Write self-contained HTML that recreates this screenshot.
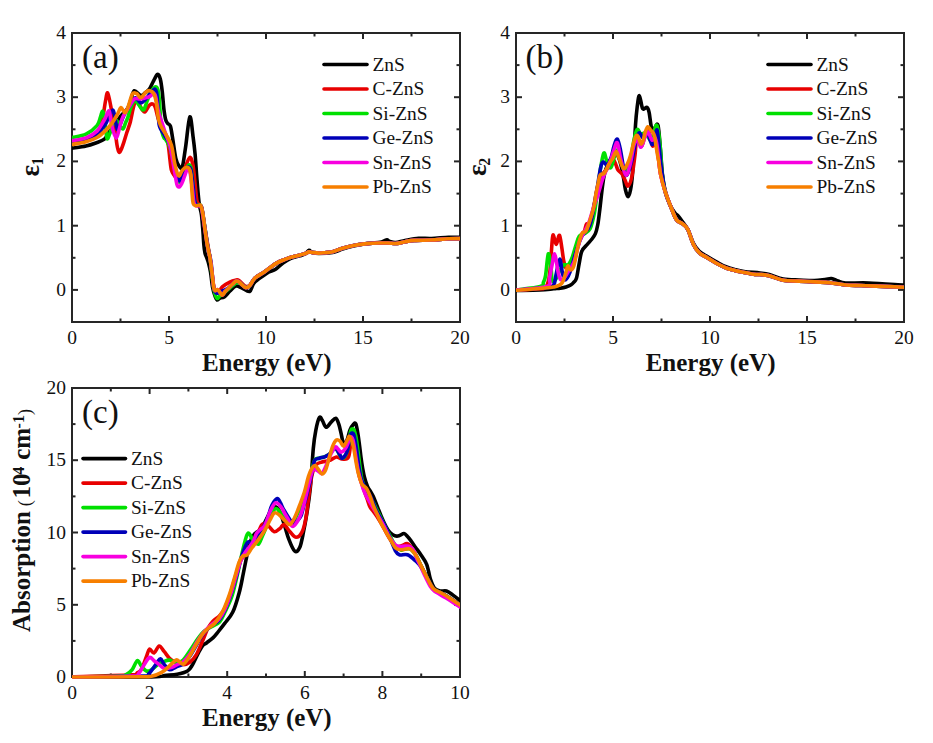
<!DOCTYPE html>
<html><head><meta charset="utf-8"><style>
html,body{margin:0;padding:0;background:#fff;width:933px;height:743px;overflow:hidden}
svg{display:block}
</style></head><body>
<svg width="933" height="743" viewBox="0 0 933 743">
<rect width="100%" height="100%" fill="#fff"/>
<defs>
<clipPath id="ca"><rect x="72" y="32" width="388" height="292"/></clipPath>
<clipPath id="cb"><rect x="516" y="32" width="388" height="292"/></clipPath>
<clipPath id="cc"><rect x="72" y="387" width="388" height="292"/></clipPath>
</defs>
<g stroke="#262626" stroke-width="2" fill="none">
<rect x="72" y="33" width="388" height="289" />
<rect x="516" y="33" width="388" height="289" />
<rect x="72" y="388" width="388" height="289" />
<line x1="72.0" y1="322" x2="72.0" y2="316" />
<line x1="72.0" y1="33" x2="72.0" y2="39" />
<line x1="169.0" y1="322" x2="169.0" y2="316" />
<line x1="169.0" y1="33" x2="169.0" y2="39" />
<line x1="266.0" y1="322" x2="266.0" y2="316" />
<line x1="266.0" y1="33" x2="266.0" y2="39" />
<line x1="363.0" y1="322" x2="363.0" y2="316" />
<line x1="363.0" y1="33" x2="363.0" y2="39" />
<line x1="460.0" y1="322" x2="460.0" y2="316" />
<line x1="460.0" y1="33" x2="460.0" y2="39" />
<line x1="120.5" y1="322" x2="120.5" y2="318.5" />
<line x1="120.5" y1="33" x2="120.5" y2="36.5" />
<line x1="217.5" y1="322" x2="217.5" y2="318.5" />
<line x1="217.5" y1="33" x2="217.5" y2="36.5" />
<line x1="314.5" y1="322" x2="314.5" y2="318.5" />
<line x1="314.5" y1="33" x2="314.5" y2="36.5" />
<line x1="411.5" y1="322" x2="411.5" y2="318.5" />
<line x1="411.5" y1="33" x2="411.5" y2="36.5" />
<line x1="72" y1="289.9" x2="78" y2="289.9" />
<line x1="460" y1="289.9" x2="454" y2="289.9" />
<line x1="72" y1="225.7" x2="78" y2="225.7" />
<line x1="460" y1="225.7" x2="454" y2="225.7" />
<line x1="72" y1="161.4" x2="78" y2="161.4" />
<line x1="460" y1="161.4" x2="454" y2="161.4" />
<line x1="72" y1="97.2" x2="78" y2="97.2" />
<line x1="460" y1="97.2" x2="454" y2="97.2" />
<line x1="72" y1="33.0" x2="78" y2="33.0" />
<line x1="460" y1="33.0" x2="454" y2="33.0" />
<line x1="72" y1="257.8" x2="75.5" y2="257.8" />
<line x1="460" y1="257.8" x2="456.5" y2="257.8" />
<line x1="72" y1="193.6" x2="75.5" y2="193.6" />
<line x1="460" y1="193.6" x2="456.5" y2="193.6" />
<line x1="72" y1="129.3" x2="75.5" y2="129.3" />
<line x1="460" y1="129.3" x2="456.5" y2="129.3" />
<line x1="72" y1="65.1" x2="75.5" y2="65.1" />
<line x1="460" y1="65.1" x2="456.5" y2="65.1" />
<line x1="516.0" y1="322" x2="516.0" y2="316" />
<line x1="516.0" y1="33" x2="516.0" y2="39" />
<line x1="613.0" y1="322" x2="613.0" y2="316" />
<line x1="613.0" y1="33" x2="613.0" y2="39" />
<line x1="710.0" y1="322" x2="710.0" y2="316" />
<line x1="710.0" y1="33" x2="710.0" y2="39" />
<line x1="807.0" y1="322" x2="807.0" y2="316" />
<line x1="807.0" y1="33" x2="807.0" y2="39" />
<line x1="904.0" y1="322" x2="904.0" y2="316" />
<line x1="904.0" y1="33" x2="904.0" y2="39" />
<line x1="564.5" y1="322" x2="564.5" y2="318.5" />
<line x1="564.5" y1="33" x2="564.5" y2="36.5" />
<line x1="661.5" y1="322" x2="661.5" y2="318.5" />
<line x1="661.5" y1="33" x2="661.5" y2="36.5" />
<line x1="758.5" y1="322" x2="758.5" y2="318.5" />
<line x1="758.5" y1="33" x2="758.5" y2="36.5" />
<line x1="855.5" y1="322" x2="855.5" y2="318.5" />
<line x1="855.5" y1="33" x2="855.5" y2="36.5" />
<line x1="516" y1="289.9" x2="522" y2="289.9" />
<line x1="904" y1="289.9" x2="898" y2="289.9" />
<line x1="516" y1="225.7" x2="522" y2="225.7" />
<line x1="904" y1="225.7" x2="898" y2="225.7" />
<line x1="516" y1="161.4" x2="522" y2="161.4" />
<line x1="904" y1="161.4" x2="898" y2="161.4" />
<line x1="516" y1="97.2" x2="522" y2="97.2" />
<line x1="904" y1="97.2" x2="898" y2="97.2" />
<line x1="516" y1="33.0" x2="522" y2="33.0" />
<line x1="904" y1="33.0" x2="898" y2="33.0" />
<line x1="516" y1="257.8" x2="519.5" y2="257.8" />
<line x1="904" y1="257.8" x2="900.5" y2="257.8" />
<line x1="516" y1="193.6" x2="519.5" y2="193.6" />
<line x1="904" y1="193.6" x2="900.5" y2="193.6" />
<line x1="516" y1="129.3" x2="519.5" y2="129.3" />
<line x1="904" y1="129.3" x2="900.5" y2="129.3" />
<line x1="516" y1="65.1" x2="519.5" y2="65.1" />
<line x1="904" y1="65.1" x2="900.5" y2="65.1" />
<line x1="72.0" y1="677" x2="72.0" y2="671" />
<line x1="72.0" y1="388" x2="72.0" y2="394" />
<line x1="149.6" y1="677" x2="149.6" y2="671" />
<line x1="149.6" y1="388" x2="149.6" y2="394" />
<line x1="227.2" y1="677" x2="227.2" y2="671" />
<line x1="227.2" y1="388" x2="227.2" y2="394" />
<line x1="304.8" y1="677" x2="304.8" y2="671" />
<line x1="304.8" y1="388" x2="304.8" y2="394" />
<line x1="382.4" y1="677" x2="382.4" y2="671" />
<line x1="382.4" y1="388" x2="382.4" y2="394" />
<line x1="460.0" y1="677" x2="460.0" y2="671" />
<line x1="460.0" y1="388" x2="460.0" y2="394" />
<line x1="110.8" y1="677" x2="110.8" y2="673.5" />
<line x1="110.8" y1="388" x2="110.8" y2="391.5" />
<line x1="188.4" y1="677" x2="188.4" y2="673.5" />
<line x1="188.4" y1="388" x2="188.4" y2="391.5" />
<line x1="266.0" y1="677" x2="266.0" y2="673.5" />
<line x1="266.0" y1="388" x2="266.0" y2="391.5" />
<line x1="343.6" y1="677" x2="343.6" y2="673.5" />
<line x1="343.6" y1="388" x2="343.6" y2="391.5" />
<line x1="421.2" y1="677" x2="421.2" y2="673.5" />
<line x1="421.2" y1="388" x2="421.2" y2="391.5" />
<line x1="72" y1="677.0" x2="78" y2="677.0" />
<line x1="460" y1="677.0" x2="454" y2="677.0" />
<line x1="72" y1="604.8" x2="78" y2="604.8" />
<line x1="460" y1="604.8" x2="454" y2="604.8" />
<line x1="72" y1="532.5" x2="78" y2="532.5" />
<line x1="460" y1="532.5" x2="454" y2="532.5" />
<line x1="72" y1="460.2" x2="78" y2="460.2" />
<line x1="460" y1="460.2" x2="454" y2="460.2" />
<line x1="72" y1="388.0" x2="78" y2="388.0" />
<line x1="460" y1="388.0" x2="454" y2="388.0" />
<line x1="72" y1="640.9" x2="75.5" y2="640.9" />
<line x1="460" y1="640.9" x2="456.5" y2="640.9" />
<line x1="72" y1="568.6" x2="75.5" y2="568.6" />
<line x1="460" y1="568.6" x2="456.5" y2="568.6" />
<line x1="72" y1="496.4" x2="75.5" y2="496.4" />
<line x1="460" y1="496.4" x2="456.5" y2="496.4" />
<line x1="72" y1="424.1" x2="75.5" y2="424.1" />
<line x1="460" y1="424.1" x2="456.5" y2="424.1" />
</g>
<g clip-path="url(#ca)" fill="none" stroke-width="3.6" stroke-linejoin="round" stroke-linecap="round">
<path d="M72.0,148.3 C74.3,147.9 81.8,147.0 86.0,146.0 C90.2,145.0 93.9,143.6 97.0,142.5 C100.1,141.4 102.6,140.6 104.4,139.2 C106.2,137.8 106.7,135.9 108.0,134.0 C109.3,132.1 110.7,129.8 112.0,128.0 C113.3,126.2 114.7,124.8 116.0,123.0 C117.3,121.2 118.7,118.8 120.0,117.0 C121.3,115.2 122.7,114.0 124.0,112.5 C125.3,111.0 126.8,110.0 128.0,107.8 C129.2,105.6 129.9,102.3 131.0,99.5 C132.1,96.7 132.7,91.4 134.3,90.7 C135.9,90.0 139.0,95.1 140.8,95.5 C142.6,95.9 143.6,94.1 145.0,93.0 C146.4,91.9 148.1,90.9 149.4,89.1 C150.7,87.3 151.7,84.4 153.0,82.0 C154.3,79.6 156.2,75.0 157.4,74.5 C158.6,74.0 159.5,76.1 160.3,79.0 C161.1,81.9 161.7,86.8 162.3,92.0 C162.9,97.2 163.4,105.4 164.0,110.0 C164.6,114.6 165.0,117.2 165.6,119.5 C166.2,121.8 166.9,122.4 167.7,123.5 C168.5,124.6 169.6,123.7 170.4,126.1 C171.2,128.5 171.7,132.6 172.6,138.0 C173.5,143.4 174.7,153.7 175.8,158.4 C176.9,163.1 177.9,164.6 179.0,166.0 C180.1,167.4 181.2,170.1 182.3,167.0 C183.4,163.9 184.2,156.0 185.5,147.7 C186.8,139.4 188.5,118.8 189.8,117.0 C191.1,115.2 192.2,130.5 193.1,136.9 C194.0,143.3 194.5,148.0 195.2,155.2 C195.8,162.4 196.3,172.0 197.0,180.0 C197.7,188.0 198.4,197.6 199.2,203.4 C199.9,209.2 200.9,210.2 201.5,215.0 C202.1,219.8 202.6,227.2 203.0,232.0 C203.4,236.8 203.5,240.5 203.8,244.0 C204.1,247.5 204.5,250.7 205.0,253.0 C205.5,255.3 206.2,256.3 206.8,258.0 C207.4,259.7 207.9,260.7 208.5,263.0 C209.1,265.3 209.8,268.0 210.5,272.0 C211.2,276.0 211.8,283.0 212.5,287.0 C213.2,291.0 214.2,293.8 215.0,296.0 C215.8,298.2 216.2,299.7 217.0,300.0 C217.8,300.3 218.8,298.5 220.0,298.0 C221.2,297.5 222.5,298.3 224.2,297.1 C225.9,295.9 228.0,292.9 230.0,291.0 C232.0,289.1 234.0,286.5 236.0,286.0 C238.0,285.5 239.7,287.1 242.0,288.0 C244.3,288.9 247.6,292.3 249.6,291.5 C251.6,290.7 251.7,285.7 254.0,283.0 C256.3,280.3 261.1,277.3 263.6,275.5 C266.1,273.7 267.0,273.0 269.0,272.0 C271.0,271.0 273.3,270.8 275.6,269.3 C277.9,267.8 280.4,264.8 283.0,263.0 C285.6,261.2 288.1,259.5 290.9,258.3 C293.7,257.1 297.6,256.5 300.0,255.8 C302.4,255.1 303.5,254.9 305.0,254.0 C306.5,253.1 307.8,250.6 309.0,250.3 C310.2,250.0 310.4,251.8 312.0,252.3 C313.6,252.8 315.4,253.5 318.8,253.5 C322.2,253.5 328.8,253.2 332.7,252.5 C336.6,251.8 339.0,250.1 342.5,249.0 C346.0,247.9 349.4,246.9 353.6,246.0 C357.8,245.1 363.1,244.1 367.5,243.5 C371.9,242.9 377.2,242.7 380.0,242.3 C382.8,241.9 382.8,241.4 384.0,241.0 C385.2,240.6 386.0,239.7 387.0,239.8 C388.0,239.9 388.6,241.1 390.0,241.5 C391.4,241.9 393.2,242.7 395.7,242.5 C398.2,242.3 401.3,241.2 405.1,240.5 C408.9,239.8 414.2,238.6 418.6,238.3 C423.0,238.0 426.5,238.7 431.5,238.5 C436.5,238.3 443.9,237.5 448.6,237.3 C453.4,237.1 458.1,237.3 460.0,237.3" stroke="#000000" />
<path d="M72.0,142.0 C74.3,141.6 81.8,140.9 86.0,139.5 C90.2,138.1 94.5,135.9 97.0,133.5 C99.5,131.1 99.9,128.2 101.0,125.0 C102.1,121.8 102.7,118.0 103.4,114.0 C104.2,110.0 104.8,104.5 105.5,101.0 C106.2,97.5 106.8,91.9 107.7,92.9 C108.6,93.9 110.0,102.4 110.9,106.9 C111.8,111.4 112.3,115.9 113.0,120.0 C113.7,124.1 114.5,127.5 115.2,131.7 C115.9,135.9 116.4,141.6 117.0,145.0 C117.6,148.4 118.3,151.3 119.0,152.1 C119.7,152.9 120.2,151.6 121.0,150.0 C121.8,148.4 122.8,145.4 123.8,142.4 C124.8,139.4 125.9,135.4 127.0,132.0 C128.1,128.6 129.3,125.9 130.3,122.0 C131.3,118.1 132.2,112.3 133.2,108.4 C134.2,104.5 135.4,99.3 136.5,98.8 C137.6,98.3 138.7,103.3 139.7,105.2 C140.7,107.1 141.6,108.9 142.5,110.0 C143.4,111.1 143.9,112.5 145.1,111.7 C146.2,110.9 148.1,106.5 149.4,105.2 C150.7,103.9 152.1,103.7 153.1,104.1 C154.1,104.5 154.5,105.1 155.3,107.4 C156.1,109.7 157.1,115.1 158.0,118.0 C158.9,120.9 160.0,122.8 161.0,125.0 C162.0,127.2 163.2,129.2 164.0,131.0 C164.8,132.8 165.4,133.6 166.1,136.0 C166.8,138.4 167.7,141.5 168.3,145.5 C169.0,149.5 169.5,155.9 170.0,160.0 C170.5,164.1 170.8,167.8 171.5,170.3 C172.2,172.8 172.9,173.4 174.0,175.0 C175.1,176.6 176.7,179.7 178.0,180.0 C179.3,180.3 180.8,179.0 182.0,177.0 C183.2,175.0 183.7,171.3 185.0,168.0 C186.3,164.7 188.5,157.7 189.8,157.4 C191.2,157.1 192.2,161.3 193.1,166.0 C194.0,170.7 194.6,179.6 195.2,185.3 C195.8,191.0 196.2,196.8 196.8,200.0 C197.4,203.2 198.2,203.2 199.0,204.5 C199.8,205.8 200.7,203.5 201.7,207.5 C202.7,211.5 203.5,220.0 204.9,228.5 C206.3,237.0 208.6,248.8 210.1,258.5 C211.6,268.2 212.8,281.2 213.8,287.0 C214.8,292.8 215.1,292.2 216.0,293.0 C216.9,293.8 217.9,293.0 219.0,292.0 C220.1,291.0 220.5,288.4 222.3,286.8 C224.1,285.2 227.6,283.2 229.8,282.1 C232.0,281.0 234.0,280.5 235.5,280.2 C237.0,279.9 237.4,279.5 239.0,280.5 C240.6,281.5 243.2,285.1 245.0,286.0 C246.8,286.9 247.9,287.1 249.6,285.8 C251.3,284.5 252.7,280.2 255.0,278.0 C257.3,275.8 261.1,274.2 263.6,272.5 C266.1,270.8 267.8,269.3 270.0,267.7 C272.2,266.1 274.7,264.2 277.0,262.9 C279.3,261.6 281.7,260.7 284.0,259.8 C286.3,258.9 288.2,258.1 290.9,257.3 C293.6,256.5 297.5,255.7 300.0,255.0 C302.5,254.3 304.5,253.8 306.0,253.3 C307.5,252.8 307.8,252.0 309.0,251.9 C310.2,251.8 311.4,252.4 313.0,252.6 C314.6,252.8 316.8,253.1 318.8,253.1 C320.8,253.1 322.7,252.9 325.0,252.7 C327.3,252.5 329.8,252.4 332.7,251.7 C335.6,250.9 339.0,249.2 342.5,248.2 C346.0,247.2 349.4,246.3 353.6,245.5 C357.8,244.7 363.1,244.0 367.5,243.6 C371.9,243.2 376.6,243.1 380.0,243.0 C383.4,242.9 385.1,242.9 388.0,243.0 C390.9,243.1 394.3,243.6 397.2,243.4 C400.1,243.2 402.2,242.2 405.1,241.7 C408.0,241.2 409.9,240.7 414.3,240.4 C418.7,240.1 425.8,240.3 431.5,240.0 C437.2,239.7 443.9,239.0 448.6,238.8 C453.4,238.6 458.1,238.6 460.0,238.6" stroke="#e80000" />
<path d="M72.0,137.5 C74.3,136.9 81.8,136.2 86.0,134.2 C90.2,132.2 94.6,128.6 97.0,125.7 C99.4,122.8 99.6,119.4 100.5,117.0 C101.4,114.6 101.7,111.4 102.3,111.2 C102.9,111.0 103.5,113.5 104.0,116.0 C104.5,118.5 105.0,122.2 105.5,126.0 C106.0,129.8 106.3,137.5 107.1,138.7 C107.8,139.9 109.0,135.4 110.0,133.0 C111.0,130.6 112.0,126.2 113.0,124.0 C114.0,121.8 115.0,120.0 116.0,120.0 C117.0,120.0 117.9,122.5 119.0,124.0 C120.1,125.5 121.7,129.2 122.8,129.0 C123.9,128.8 124.6,125.1 125.5,123.0 C126.4,120.9 127.2,119.3 128.1,116.6 C129.0,113.9 129.9,109.7 131.0,107.0 C132.1,104.3 133.5,101.2 134.6,100.5 C135.7,99.8 136.4,101.8 137.5,103.0 C138.6,104.2 139.9,106.9 141.0,108.0 C142.1,109.1 143.0,110.7 144.0,109.5 C145.0,108.3 146.0,103.8 147.2,100.9 C148.4,98.0 149.6,94.3 151.0,92.0 C152.4,89.7 154.6,86.9 155.8,86.9 C157.1,87.0 157.8,88.5 158.5,92.3 C159.2,96.1 159.6,104.5 160.0,110.0 C160.4,115.5 160.6,121.1 161.0,125.0 C161.4,128.9 161.8,131.0 162.3,133.2 C162.8,135.4 163.4,136.9 164.0,138.0 C164.6,139.1 165.0,138.3 166.0,140.0 C167.0,141.7 168.7,143.8 170.0,148.0 C171.3,152.2 172.7,159.7 174.0,165.0 C175.3,170.3 176.8,177.2 178.0,180.0 C179.2,182.8 180.0,182.8 181.0,182.0 C182.0,181.2 182.8,177.8 184.0,175.0 C185.2,172.2 187.0,166.6 188.2,165.4 C189.4,164.2 190.2,164.7 191.0,168.0 C191.8,171.3 192.4,179.7 193.0,185.0 C193.6,190.3 193.8,196.7 194.5,200.0 C195.2,203.3 195.9,204.0 197.0,205.0 C198.1,206.0 199.8,203.2 201.0,206.0 C202.2,208.8 202.9,215.5 204.0,222.0 C205.1,228.5 206.5,239.0 207.5,245.0 C208.5,251.0 209.0,251.0 210.0,258.0 C211.0,265.0 212.4,280.3 213.5,287.0 C214.6,293.7 215.6,296.5 216.7,298.0 C217.8,299.5 218.8,296.8 220.0,296.0 C221.2,295.2 222.3,294.3 224.0,293.0 C225.7,291.7 228.0,289.7 230.0,288.0 C232.0,286.3 234.3,283.8 236.0,283.0 C237.7,282.2 238.5,282.3 240.0,283.0 C241.5,283.7 243.4,286.5 245.0,287.0 C246.6,287.5 247.9,287.3 249.6,285.8 C251.3,284.3 252.7,280.2 255.0,278.0 C257.3,275.8 261.1,274.2 263.6,272.5 C266.1,270.8 267.8,269.3 270.0,267.7 C272.2,266.1 274.7,264.2 277.0,262.9 C279.3,261.6 281.7,260.7 284.0,259.8 C286.3,258.9 288.2,258.1 290.9,257.3 C293.6,256.5 297.5,255.7 300.0,255.0 C302.5,254.3 304.5,253.8 306.0,253.3 C307.5,252.8 307.8,252.0 309.0,251.9 C310.2,251.8 311.4,252.4 313.0,252.6 C314.6,252.8 316.8,253.1 318.8,253.1 C320.8,253.1 322.7,252.9 325.0,252.7 C327.3,252.5 329.8,252.4 332.7,251.7 C335.6,250.9 339.0,249.2 342.5,248.2 C346.0,247.2 349.4,246.3 353.6,245.5 C357.8,244.7 363.1,244.0 367.5,243.6 C371.9,243.2 376.6,243.1 380.0,243.0 C383.4,242.9 385.1,242.9 388.0,243.0 C390.9,243.1 394.3,243.6 397.2,243.4 C400.1,243.2 402.2,242.2 405.1,241.7 C408.0,241.2 409.9,240.7 414.3,240.4 C418.7,240.1 425.8,240.3 431.5,240.0 C437.2,239.7 443.9,239.0 448.6,238.8 C453.4,238.6 458.1,238.6 460.0,238.6" stroke="#00e000" />
<path d="M72.0,142.4 C74.3,141.9 81.8,140.9 86.0,139.6 C90.2,138.2 93.8,136.9 97.0,134.3 C100.2,131.7 103.5,127.1 105.5,124.1 C107.5,121.0 107.8,118.3 109.0,116.0 C110.2,113.7 112.0,109.8 113.0,110.1 C114.0,110.4 114.3,114.8 115.0,118.0 C115.7,121.2 116.6,128.3 117.4,129.5 C118.2,130.7 118.9,127.4 120.0,125.0 C121.1,122.6 122.7,117.8 124.0,115.0 C125.3,112.2 126.3,110.8 128.1,108.0 C129.9,105.2 132.9,99.6 134.6,98.3 C136.2,97.0 136.9,99.2 138.0,100.0 C139.1,100.8 139.8,103.0 141.0,103.0 C142.2,103.0 143.5,101.5 145.0,100.0 C146.5,98.5 148.4,95.8 150.0,94.0 C151.6,92.2 153.6,88.9 154.8,89.1 C156.0,89.3 156.5,91.5 157.0,95.0 C157.5,98.5 157.7,105.1 158.0,110.0 C158.3,114.9 158.6,121.3 159.1,124.6 C159.6,127.9 160.2,128.1 161.2,130.0 C162.2,131.9 163.5,133.5 165.0,136.0 C166.5,138.5 168.5,140.2 170.0,145.0 C171.5,149.8 172.6,159.2 174.0,165.0 C175.4,170.8 177.2,177.8 178.5,180.0 C179.8,182.2 180.9,179.7 182.0,178.0 C183.1,176.3 183.9,171.8 185.0,170.0 C186.1,168.2 187.5,167.0 188.5,167.0 C189.5,167.0 190.2,167.0 191.0,170.0 C191.8,173.0 192.3,179.7 193.0,185.0 C193.7,190.3 194.2,198.6 195.0,202.0 C195.8,205.4 196.9,204.7 198.0,205.5 C199.1,206.3 200.4,203.8 201.5,207.0 C202.6,210.2 203.4,218.2 204.5,225.0 C205.6,231.8 206.9,241.8 208.0,248.0 C209.1,254.2 210.1,255.7 211.0,262.0 C211.9,268.3 212.7,280.8 213.5,286.0 C214.3,291.2 214.9,292.0 216.0,293.0 C217.1,294.0 218.5,292.5 220.0,292.0 C221.5,291.5 223.5,290.7 225.0,290.0 C226.5,289.3 227.6,288.7 228.9,287.7 C230.2,286.7 231.4,285.1 232.7,284.0 C233.9,282.9 235.3,281.4 236.4,281.1 C237.5,280.8 238.4,281.5 239.3,282.1 C240.2,282.7 241.0,284.0 242.1,284.9 C243.2,285.8 244.6,287.5 245.8,287.7 C247.1,287.9 248.1,287.4 249.6,285.8 C251.1,284.2 252.7,280.2 255.0,278.0 C257.3,275.8 261.1,274.2 263.6,272.5 C266.1,270.8 267.8,269.3 270.0,267.7 C272.2,266.1 274.7,264.2 277.0,262.9 C279.3,261.6 281.7,260.7 284.0,259.8 C286.3,258.9 288.2,258.1 290.9,257.3 C293.6,256.5 297.5,255.7 300.0,255.0 C302.5,254.3 304.5,253.8 306.0,253.3 C307.5,252.8 307.8,252.0 309.0,251.9 C310.2,251.8 311.4,252.4 313.0,252.6 C314.6,252.8 316.8,253.1 318.8,253.1 C320.8,253.1 322.7,252.9 325.0,252.7 C327.3,252.5 329.8,252.4 332.7,251.7 C335.6,250.9 339.0,249.2 342.5,248.2 C346.0,247.2 349.4,246.3 353.6,245.5 C357.8,244.7 363.1,244.0 367.5,243.6 C371.9,243.2 376.6,243.1 380.0,243.0 C383.4,242.9 385.1,242.9 388.0,243.0 C390.9,243.1 394.3,243.6 397.2,243.4 C400.1,243.2 402.2,242.2 405.1,241.7 C408.0,241.2 409.9,240.7 414.3,240.4 C418.7,240.1 425.8,240.3 431.5,240.0 C437.2,239.7 443.9,239.0 448.6,238.8 C453.4,238.6 458.1,238.6 460.0,238.6" stroke="#0000b8" />
<path d="M72.0,140.7 C74.3,140.2 81.8,139.5 86.0,137.9 C90.2,136.3 93.9,134.1 97.0,131.1 C100.1,128.1 102.7,122.6 104.4,119.8 C106.1,117.0 106.2,115.4 107.0,114.0 C107.8,112.6 108.6,110.0 109.3,111.2 C110.0,112.4 110.3,117.7 110.9,120.9 C111.5,124.1 112.1,127.7 113.0,130.6 C113.9,133.5 115.3,138.2 116.3,138.1 C117.3,138.0 118.1,133.1 119.0,130.0 C119.9,127.0 120.7,122.6 121.7,119.8 C122.7,117.0 123.6,115.5 125.0,113.0 C126.4,110.5 128.7,107.2 130.3,104.8 C131.9,102.4 133.0,99.8 134.6,98.8 C136.2,97.8 138.3,99.1 140.0,99.0 C141.7,98.9 143.4,98.4 145.0,98.0 C146.6,97.6 148.1,97.3 149.4,96.6 C150.7,95.9 152.0,94.1 153.0,94.0 C154.0,93.9 154.7,93.3 155.5,96.0 C156.3,98.7 157.1,106.0 158.0,110.0 C158.9,114.0 160.0,116.6 161.2,120.3 C162.4,124.0 163.5,127.7 165.0,132.0 C166.5,136.3 168.5,140.0 170.0,146.0 C171.5,152.0 172.9,161.7 174.0,168.0 C175.1,174.3 176.0,180.8 176.8,184.0 C177.7,187.2 178.2,187.2 179.1,187.0 C180.0,186.8 181.1,184.7 182.0,183.0 C182.9,181.3 183.5,179.0 184.4,176.7 C185.3,174.4 186.6,169.8 187.5,169.0 C188.4,168.2 189.2,168.5 190.0,172.0 C190.8,175.5 191.8,184.8 192.5,190.0 C193.2,195.2 193.2,200.3 194.0,203.0 C194.8,205.7 195.8,205.4 197.0,206.0 C198.2,206.6 199.9,204.2 201.0,206.5 C202.1,208.8 202.5,213.7 203.5,220.0 C204.5,226.3 206.1,238.0 207.2,244.4 C208.3,250.8 209.3,253.8 210.1,258.5 C210.9,263.2 211.4,267.8 212.0,272.7 C212.6,277.6 213.3,284.7 213.8,287.7 C214.3,290.7 214.6,290.3 215.2,290.6 C215.8,290.9 216.8,289.3 217.6,289.6 C218.4,289.9 219.2,291.4 220.0,292.4 C220.8,293.3 221.5,295.4 222.3,295.3 C223.2,295.2 224.0,292.8 225.1,291.5 C226.2,290.2 227.6,288.9 228.9,287.7 C230.2,286.4 231.4,285.1 232.7,284.0 C233.9,282.9 235.3,281.4 236.4,281.1 C237.5,280.8 238.4,281.5 239.3,282.1 C240.2,282.7 241.0,284.0 242.1,284.9 C243.2,285.8 244.6,287.5 245.8,287.7 C247.1,287.9 248.1,287.4 249.6,285.8 C251.1,284.2 252.7,280.2 255.0,278.0 C257.3,275.8 261.1,274.2 263.6,272.5 C266.1,270.8 267.8,269.3 270.0,267.7 C272.2,266.1 274.7,264.2 277.0,262.9 C279.3,261.6 281.7,260.7 284.0,259.8 C286.3,258.9 288.2,258.1 290.9,257.3 C293.6,256.5 297.5,255.7 300.0,255.0 C302.5,254.3 304.5,253.8 306.0,253.3 C307.5,252.8 307.8,252.0 309.0,251.9 C310.2,251.8 311.4,252.4 313.0,252.6 C314.6,252.8 316.8,253.1 318.8,253.1 C320.8,253.1 322.7,252.9 325.0,252.7 C327.3,252.5 329.8,252.4 332.7,251.7 C335.6,250.9 339.0,249.2 342.5,248.2 C346.0,247.2 349.4,246.3 353.6,245.5 C357.8,244.7 363.1,244.0 367.5,243.6 C371.9,243.2 376.6,243.1 380.0,243.0 C383.4,242.9 385.1,242.9 388.0,243.0 C390.9,243.1 394.3,243.6 397.2,243.4 C400.1,243.2 402.2,242.2 405.1,241.7 C408.0,241.2 409.9,240.7 414.3,240.4 C418.7,240.1 425.8,240.3 431.5,240.0 C437.2,239.7 443.9,239.0 448.6,238.8 C453.4,238.6 458.1,238.6 460.0,238.6" stroke="#f800e0" />
<path d="M72.0,144.5 C74.3,144.0 81.8,142.9 86.0,141.7 C90.2,140.5 93.8,139.3 97.0,137.5 C100.2,135.7 103.0,133.0 105.5,130.6 C108.0,128.2 110.0,125.8 112.0,123.1 C114.0,120.4 115.9,117.0 117.4,114.4 C118.9,111.8 119.8,107.8 121.1,107.5 C122.3,107.2 123.7,112.9 124.9,112.8 C126.1,112.7 126.8,110.0 128.1,106.9 C129.3,103.8 131.0,96.2 132.4,94.0 C133.8,91.8 135.3,92.9 136.7,93.5 C138.1,94.1 139.2,98.0 140.8,97.7 C142.4,97.4 144.6,93.0 146.1,91.8 C147.6,90.6 148.6,90.4 149.9,90.7 C151.2,91.0 152.6,91.4 153.7,93.4 C154.8,95.5 155.6,98.7 156.4,103.0 C157.2,107.3 157.7,115.2 158.5,119.2 C159.3,123.2 159.9,124.1 161.2,126.7 C162.5,129.3 164.4,131.7 166.1,134.8 C167.8,137.9 170.1,140.7 171.5,145.5 C172.9,150.3 173.6,158.8 174.8,163.8 C176.0,168.8 177.2,174.6 178.5,175.7 C179.8,176.8 181.1,171.7 182.3,170.3 C183.5,169.0 184.4,168.0 185.5,167.6 C186.6,167.2 187.9,166.9 188.8,168.1 C189.7,169.3 190.4,170.6 190.9,174.6 C191.4,178.6 191.6,187.3 192.0,192.1 C192.4,196.9 192.5,201.1 193.2,203.4 C193.9,205.7 194.9,205.5 196.0,205.8 C197.1,206.1 199.1,204.6 200.0,205.0 C200.9,205.4 201.1,206.4 201.7,208.3 C202.2,210.2 202.8,212.9 203.3,216.3 C203.8,219.7 204.2,223.8 204.9,228.5 C205.6,233.2 206.3,239.4 207.2,244.4 C208.1,249.4 209.3,253.8 210.1,258.5 C210.9,263.2 211.4,267.8 212.0,272.7 C212.6,277.6 213.3,284.7 213.8,287.7 C214.3,290.7 214.6,290.3 215.2,290.6 C215.8,290.9 216.8,289.3 217.6,289.6 C218.4,289.9 219.2,291.4 220.0,292.4 C220.8,293.3 221.5,295.4 222.3,295.3 C223.2,295.2 224.0,292.8 225.1,291.5 C226.2,290.2 227.6,288.9 228.9,287.7 C230.2,286.4 231.4,285.1 232.7,284.0 C233.9,282.9 235.3,281.4 236.4,281.1 C237.5,280.8 238.4,281.5 239.3,282.1 C240.2,282.7 241.0,284.0 242.1,284.9 C243.2,285.8 244.6,287.5 245.8,287.7 C247.1,287.9 248.1,287.4 249.6,285.8 C251.1,284.2 252.7,280.2 255.0,278.0 C257.3,275.8 261.1,274.2 263.6,272.5 C266.1,270.8 267.8,269.3 270.0,267.7 C272.2,266.1 274.7,264.2 277.0,262.9 C279.3,261.6 281.7,260.7 284.0,259.8 C286.3,258.9 288.2,258.1 290.9,257.3 C293.6,256.5 297.5,255.7 300.0,255.0 C302.5,254.3 304.5,253.8 306.0,253.3 C307.5,252.8 307.8,252.0 309.0,251.9 C310.2,251.8 311.4,252.4 313.0,252.6 C314.6,252.8 316.8,253.1 318.8,253.1 C320.8,253.1 322.7,252.9 325.0,252.7 C327.3,252.5 329.8,252.4 332.7,251.7 C335.6,250.9 339.0,249.2 342.5,248.2 C346.0,247.2 349.4,246.3 353.6,245.5 C357.8,244.7 363.1,244.0 367.5,243.6 C371.9,243.2 376.6,243.1 380.0,243.0 C383.4,242.9 385.1,242.9 388.0,243.0 C390.9,243.1 394.3,243.6 397.2,243.4 C400.1,243.2 402.2,242.2 405.1,241.7 C408.0,241.2 409.9,240.7 414.3,240.4 C418.7,240.1 425.8,240.3 431.5,240.0 C437.2,239.7 443.9,239.0 448.6,238.8 C453.4,238.6 458.1,238.6 460.0,238.6" stroke="#f77f00" />
</g>
<g clip-path="url(#cb)" fill="none" stroke-width="3.6" stroke-linejoin="round" stroke-linecap="round">
<path d="M516.0,290.5 C520.0,290.4 533.7,290.3 540.0,290.0 C546.3,289.7 550.2,289.1 553.6,288.8 C557.0,288.5 558.3,288.5 560.4,288.2 C562.5,287.9 564.2,287.6 566.0,287.0 C567.8,286.4 569.8,285.6 571.1,284.8 C572.4,284.0 573.1,283.1 574.0,282.0 C574.9,280.9 575.6,281.2 576.5,278.1 C577.4,275.0 578.3,267.8 579.2,263.3 C580.1,258.8 580.5,254.2 581.9,251.1 C583.2,247.9 585.6,246.4 587.3,244.4 C589.0,242.4 590.6,240.8 592.0,239.0 C593.4,237.2 594.4,235.9 595.4,233.6 C596.4,231.3 597.0,228.6 597.7,225.0 C598.4,221.4 598.9,216.7 599.5,212.0 C600.1,207.3 600.7,201.7 601.2,197.0 C601.8,192.3 602.2,187.8 602.8,184.0 C603.3,180.2 603.7,177.2 604.5,174.0 C605.3,170.8 606.2,167.8 607.5,165.0 C608.8,162.2 610.6,159.0 612.0,157.0 C613.4,155.0 614.8,152.5 616.0,153.0 C617.2,153.5 618.4,156.7 619.5,160.0 C620.6,163.3 621.7,168.1 622.7,173.1 C623.7,178.1 624.6,186.1 625.5,190.0 C626.4,193.9 627.3,196.7 628.1,196.7 C628.9,196.7 629.8,193.6 630.5,190.0 C631.2,186.4 631.8,181.7 632.4,175.0 C633.0,168.3 633.5,158.3 634.0,150.0 C634.5,141.7 635.0,132.2 635.5,125.0 C636.0,117.8 636.6,111.8 637.2,106.9 C637.9,102.0 638.5,95.3 639.4,95.6 C640.3,95.9 641.4,106.5 642.6,108.5 C643.9,110.5 645.8,106.8 646.9,107.4 C648.0,108.0 648.4,109.2 649.1,112.3 C649.8,115.4 650.5,123.2 651.2,126.3 C651.9,129.3 652.4,131.0 653.4,130.6 C654.4,130.2 656.2,124.1 657.1,124.1 C658.0,124.1 658.2,125.4 658.8,130.6 C659.4,135.8 660.3,148.0 660.9,155.4 C661.5,162.8 661.8,169.2 662.5,175.0 C663.2,180.8 663.8,185.0 665.0,190.0 C666.2,195.0 668.3,201.2 670.0,205.0 C671.7,208.8 673.6,211.2 675.0,213.0 C676.4,214.8 677.0,214.6 678.2,215.9 C679.4,217.2 680.4,218.7 682.0,221.0 C683.6,223.3 686.1,226.3 688.0,230.0 C689.9,233.7 691.5,239.5 693.3,243.0 C695.1,246.5 696.8,248.8 699.0,251.0 C701.2,253.2 703.7,254.2 706.5,256.0 C709.3,257.8 712.8,259.8 715.9,261.5 C719.0,263.2 722.2,265.2 725.3,266.5 C728.4,267.8 731.6,268.7 734.7,269.5 C737.8,270.3 739.8,270.9 744.0,271.5 C748.2,272.1 755.8,272.5 760.0,273.0 C764.2,273.5 765.4,273.5 769.3,274.5 C773.2,275.5 778.4,278.1 783.3,279.0 C788.2,279.9 793.7,279.8 798.9,280.0 C804.1,280.2 810.0,280.6 814.4,280.5 C818.8,280.4 822.1,279.8 825.0,279.5 C827.9,279.2 829.3,278.2 831.5,278.5 C833.7,278.8 835.7,280.2 838.0,281.0 C840.3,281.8 840.4,282.7 845.5,283.0 C850.6,283.3 859.1,282.7 868.9,283.0 C878.6,283.3 898.1,284.7 904.0,285.0" stroke="#000000" />
<path d="M516.0,290.2 C520.0,290.0 535.0,289.3 540.0,288.8 C545.0,288.3 544.4,289.3 546.0,287.0 C547.6,284.7 548.6,281.2 549.5,275.0 C550.4,268.8 550.9,256.7 551.5,250.0 C552.1,243.3 552.2,235.9 553.0,235.0 C553.8,234.1 555.2,244.3 556.3,244.4 C557.4,244.5 558.5,233.0 559.7,235.7 C560.9,238.4 562.6,255.1 563.7,260.6 C564.8,266.1 565.4,267.4 566.4,268.6 C567.4,269.8 568.7,269.1 570.0,268.0 C571.3,266.9 572.7,265.8 574.0,262.0 C575.3,258.2 576.7,249.7 578.0,245.0 C579.3,240.3 580.9,236.3 582.0,234.0 C583.1,231.7 583.8,232.7 584.5,231.0 C585.2,229.3 585.8,224.7 586.5,224.0 C587.2,223.3 587.8,227.5 588.5,227.0 C589.2,226.5 589.6,224.7 590.5,221.0 C591.4,217.3 592.8,211.0 594.0,205.0 C595.2,199.0 596.7,190.0 598.0,185.0 C599.3,180.0 600.7,177.5 602.0,175.0 C603.3,172.5 604.7,171.5 606.0,170.0 C607.3,168.5 608.8,167.7 610.0,166.0 C611.2,164.3 612.5,160.2 613.5,160.0 C614.5,159.8 615.2,163.3 616.0,165.0 C616.8,166.7 617.0,168.5 618.0,170.0 C619.0,171.5 620.8,172.3 622.0,174.0 C623.2,175.7 624.0,178.0 625.0,180.0 C626.0,182.0 626.9,186.7 628.1,186.0 C629.3,185.3 630.9,181.2 632.0,176.0 C633.1,170.8 634.2,161.3 635.0,155.0 C635.8,148.7 635.9,140.7 636.5,138.0 C637.1,135.3 637.8,137.7 638.5,139.0 C639.2,140.3 640.2,145.3 641.0,146.0 C641.8,146.7 642.2,145.1 643.0,143.0 C643.8,140.9 644.7,135.7 645.5,133.5 C646.3,131.3 647.2,129.4 648.0,130.0 C648.8,130.6 649.7,134.3 650.5,137.0 C651.3,139.7 651.9,145.3 652.6,146.0 C653.4,146.7 654.3,140.5 655.0,141.0 C655.7,141.5 656.3,145.3 657.0,149.0 C657.7,152.7 658.4,158.8 659.0,163.0 C659.6,167.2 659.6,169.8 660.6,174.5 C661.6,179.2 663.4,186.1 665.1,191.4 C666.8,196.7 668.8,201.8 670.7,206.5 C672.6,211.2 674.5,216.9 676.4,219.7 C678.3,222.5 680.1,221.8 682.0,223.4 C683.9,225.0 685.8,225.6 687.7,229.1 C689.6,232.6 691.4,240.3 693.3,244.2 C695.2,248.1 696.8,250.4 699.0,252.6 C701.2,254.8 703.7,255.6 706.5,257.3 C709.3,259.0 712.8,261.3 715.9,263.0 C719.0,264.7 722.2,266.4 725.3,267.7 C728.4,268.9 731.6,269.7 734.7,270.5 C737.9,271.3 741.1,271.8 744.2,272.4 C747.4,273.0 751.0,273.9 753.6,274.3 C756.2,274.7 757.4,274.3 760.0,274.5 C762.6,274.7 765.4,274.7 769.3,275.7 C773.2,276.7 778.4,279.4 783.3,280.3 C788.2,281.2 793.7,280.8 798.9,281.1 C804.1,281.4 809.2,281.6 814.4,281.9 C819.6,282.2 824.8,282.2 830.0,282.7 C835.2,283.2 840.3,284.5 845.5,285.0 C850.7,285.5 855.9,285.3 861.1,285.5 C866.3,285.7 869.5,285.8 876.6,286.1 C883.8,286.4 899.4,287.1 904.0,287.3" stroke="#e80000" />
<path d="M516.0,290.0 C520.0,289.4 535.6,287.8 540.2,286.5 C544.8,285.2 542.6,283.9 543.5,282.0 C544.4,280.1 544.8,280.1 545.6,275.4 C546.4,270.7 547.4,255.2 548.3,253.8 C549.2,252.5 550.3,262.8 551.0,267.3 C551.7,271.8 551.5,278.9 552.3,280.8 C553.1,282.8 554.7,280.8 556.0,279.0 C557.3,277.2 558.6,272.4 560.0,270.0 C561.4,267.6 563.1,265.4 564.4,264.6 C565.7,263.8 566.7,266.1 568.0,265.0 C569.3,263.9 570.7,261.3 572.0,258.0 C573.3,254.7 574.8,248.6 576.0,245.0 C577.2,241.4 577.9,238.1 579.2,236.3 C580.5,234.5 582.2,235.2 584.0,234.0 C585.8,232.8 588.3,232.2 590.0,229.0 C591.7,225.8 592.8,220.7 594.0,215.0 C595.2,209.3 596.0,202.2 597.0,195.0 C598.0,187.8 598.9,179.0 600.0,172.0 C601.1,165.0 602.6,154.8 603.8,153.1 C605.0,151.4 605.8,159.6 607.0,162.0 C608.2,164.4 609.6,168.4 610.8,167.7 C612.0,167.0 613.0,160.9 614.0,158.0 C615.0,155.1 616.0,150.5 617.0,150.0 C618.0,149.5 619.0,152.0 620.0,155.0 C621.0,158.0 622.0,165.2 623.0,168.0 C624.0,170.8 624.8,173.0 626.0,172.0 C627.2,171.0 628.7,167.3 630.0,162.0 C631.3,156.7 632.8,145.4 634.0,140.0 C635.2,134.6 636.0,130.5 637.2,129.5 C638.4,128.5 639.5,133.4 641.0,134.0 C642.5,134.6 644.5,132.0 646.0,133.0 C647.5,134.0 648.8,139.5 650.0,140.0 C651.2,140.5 652.0,138.5 653.0,136.0 C654.0,133.5 655.2,125.9 656.1,125.2 C657.0,124.5 657.8,127.9 658.5,132.0 C659.2,136.1 659.9,143.3 660.5,150.0 C661.1,156.7 661.2,165.1 662.0,172.0 C662.8,178.9 663.6,185.7 665.1,191.4 C666.6,197.2 668.8,201.8 670.7,206.5 C672.6,211.2 674.5,216.9 676.4,219.7 C678.3,222.5 680.1,221.8 682.0,223.4 C683.9,225.0 685.8,225.6 687.7,229.1 C689.6,232.6 691.4,240.3 693.3,244.2 C695.2,248.1 696.8,250.4 699.0,252.6 C701.2,254.8 703.7,255.6 706.5,257.3 C709.3,259.0 712.8,261.3 715.9,263.0 C719.0,264.7 722.2,266.4 725.3,267.7 C728.4,268.9 731.6,269.7 734.7,270.5 C737.9,271.3 741.1,271.8 744.2,272.4 C747.4,273.0 751.0,273.9 753.6,274.3 C756.2,274.7 757.4,274.3 760.0,274.5 C762.6,274.7 765.4,274.7 769.3,275.7 C773.2,276.7 778.4,279.4 783.3,280.3 C788.2,281.2 793.7,280.8 798.9,281.1 C804.1,281.4 809.2,281.6 814.4,281.9 C819.6,282.2 824.8,282.2 830.0,282.7 C835.2,283.2 840.3,284.5 845.5,285.0 C850.7,285.5 855.9,285.3 861.1,285.5 C866.3,285.7 869.5,285.8 876.6,286.1 C883.8,286.4 899.4,287.1 904.0,287.3" stroke="#00e000" />
<path d="M516.0,290.2 C520.8,289.8 538.7,288.7 545.0,287.8 C551.3,286.9 551.8,286.9 553.6,284.8 C555.4,282.7 555.0,279.3 556.0,275.0 C557.0,270.7 558.6,259.6 559.7,259.2 C560.8,258.8 561.5,269.2 562.4,272.7 C563.3,276.2 563.7,280.1 565.0,280.0 C566.3,279.9 568.2,276.7 570.0,272.0 C571.8,267.3 574.0,258.0 576.0,252.0 C578.0,246.0 579.7,240.5 582.0,236.0 C584.3,231.5 587.7,231.8 590.0,225.0 C592.3,218.2 594.2,204.7 596.0,195.0 C597.8,185.3 599.5,172.5 600.8,167.0 C602.0,161.5 602.5,162.3 603.5,162.0 C604.5,161.7 605.8,165.7 607.0,165.0 C608.2,164.3 609.8,161.2 611.0,158.0 C612.2,154.8 613.0,149.2 614.0,146.0 C615.0,142.8 616.2,138.4 617.3,139.1 C618.4,139.8 619.4,144.8 620.5,150.0 C621.6,155.2 622.9,165.8 624.0,170.0 C625.1,174.2 625.7,176.7 627.0,175.0 C628.3,173.3 630.5,165.8 632.0,160.0 C633.5,154.2 634.8,144.6 636.0,140.0 C637.2,135.4 638.2,133.0 639.4,132.7 C640.6,132.4 641.7,138.1 643.0,138.0 C644.3,137.9 645.8,131.7 647.0,132.0 C648.2,132.3 649.1,137.9 650.0,140.0 C650.9,142.1 651.5,144.9 652.3,144.6 C653.1,144.3 654.2,140.4 655.0,138.0 C655.8,135.6 656.3,128.8 657.0,130.0 C657.7,131.2 658.3,139.2 659.0,145.0 C659.7,150.8 660.0,157.3 661.0,165.0 C662.0,172.7 663.5,184.5 665.1,191.4 C666.7,198.3 668.8,201.8 670.7,206.5 C672.6,211.2 674.5,216.9 676.4,219.7 C678.3,222.5 680.1,221.8 682.0,223.4 C683.9,225.0 685.8,225.6 687.7,229.1 C689.6,232.6 691.4,240.3 693.3,244.2 C695.2,248.1 696.8,250.4 699.0,252.6 C701.2,254.8 703.7,255.6 706.5,257.3 C709.3,259.0 712.8,261.3 715.9,263.0 C719.0,264.7 722.2,266.4 725.3,267.7 C728.4,268.9 731.6,269.7 734.7,270.5 C737.9,271.3 741.1,271.8 744.2,272.4 C747.4,273.0 751.0,273.9 753.6,274.3 C756.2,274.7 757.4,274.3 760.0,274.5 C762.6,274.7 765.4,274.7 769.3,275.7 C773.2,276.7 778.4,279.4 783.3,280.3 C788.2,281.2 793.7,280.8 798.9,281.1 C804.1,281.4 809.2,281.6 814.4,281.9 C819.6,282.2 824.8,282.2 830.0,282.7 C835.2,283.2 840.3,284.5 845.5,285.0 C850.7,285.5 855.9,285.3 861.1,285.5 C866.3,285.7 869.5,285.8 876.6,286.1 C883.8,286.4 899.4,287.1 904.0,287.3" stroke="#0000b8" />
<path d="M516.0,290.1 C521.1,289.5 541.3,288.5 546.9,286.5 C552.5,284.5 548.7,281.2 549.5,278.0 C550.3,274.8 550.7,271.3 551.6,267.3 C552.5,263.3 553.7,253.4 554.7,253.8 C555.7,254.2 556.8,265.7 557.7,270.0 C558.7,274.3 559.4,278.1 560.4,279.4 C561.4,280.7 562.7,279.2 564.0,278.0 C565.3,276.8 566.3,274.7 568.0,272.0 C569.7,269.3 572.0,267.3 574.0,262.0 C576.0,256.7 577.7,246.2 580.0,240.0 C582.3,233.8 585.7,230.7 588.0,225.0 C590.3,219.3 592.4,210.8 594.0,206.0 C595.6,201.2 596.4,199.3 597.5,196.0 C598.6,192.7 599.7,188.8 600.5,186.0 C601.3,183.2 601.8,181.5 602.5,179.5 C603.2,177.5 603.8,175.8 604.5,174.0 C605.2,172.2 606.1,171.0 607.0,169.0 C607.9,167.0 608.8,165.2 610.0,162.0 C611.2,158.8 612.8,153.2 614.0,150.0 C615.2,146.8 616.1,141.2 617.3,142.9 C618.5,144.6 619.6,154.6 621.0,160.0 C622.4,165.4 624.4,174.4 625.9,175.2 C627.4,176.0 628.6,170.0 630.0,165.0 C631.4,160.0 632.7,149.2 634.0,145.0 C635.3,140.8 636.8,139.6 638.0,140.0 C639.2,140.4 639.8,147.7 641.0,147.2 C642.2,146.7 643.8,139.5 645.0,137.0 C646.2,134.5 646.8,131.5 648.0,132.0 C649.2,132.5 650.8,139.0 652.0,140.0 C653.2,141.0 654.2,137.2 655.0,138.0 C655.8,138.8 656.4,141.4 657.0,145.0 C657.6,148.6 658.2,154.8 658.8,159.7 C659.4,164.6 659.5,169.2 660.6,174.5 C661.7,179.8 663.4,186.1 665.1,191.4 C666.8,196.7 668.8,201.8 670.7,206.5 C672.6,211.2 674.5,216.9 676.4,219.7 C678.3,222.5 680.1,221.8 682.0,223.4 C683.9,225.0 685.8,225.6 687.7,229.1 C689.6,232.6 691.4,240.3 693.3,244.2 C695.2,248.1 696.8,250.4 699.0,252.6 C701.2,254.8 703.7,255.6 706.5,257.3 C709.3,259.0 712.8,261.3 715.9,263.0 C719.0,264.7 722.2,266.4 725.3,267.7 C728.4,268.9 731.6,269.7 734.7,270.5 C737.9,271.3 741.1,271.8 744.2,272.4 C747.4,273.0 751.0,273.9 753.6,274.3 C756.2,274.7 757.4,274.3 760.0,274.5 C762.6,274.7 765.4,274.7 769.3,275.7 C773.2,276.7 778.4,279.4 783.3,280.3 C788.2,281.2 793.7,280.8 798.9,281.1 C804.1,281.4 809.2,281.6 814.4,281.9 C819.6,282.2 824.8,282.2 830.0,282.7 C835.2,283.2 840.3,284.5 845.5,285.0 C850.7,285.5 855.9,285.3 861.1,285.5 C866.3,285.7 869.5,285.8 876.6,286.1 C883.8,286.4 899.4,287.1 904.0,287.3" stroke="#f800e0" />
<path d="M516.0,290.3 C520.0,290.0 533.7,289.1 540.0,288.5 C546.3,287.9 550.0,287.9 553.6,287.0 C557.2,286.1 559.7,285.8 561.7,283.4 C563.7,281.0 564.8,275.6 565.8,272.7 C566.8,269.8 567.0,266.4 567.8,266.0 C568.6,265.6 569.5,270.0 570.5,270.0 C571.5,270.0 572.6,269.8 573.8,266.0 C575.0,262.2 576.5,252.5 577.9,247.1 C579.2,241.7 580.5,236.3 581.9,233.6 C583.2,230.9 584.6,233.2 586.0,231.0 C587.4,228.8 588.7,224.2 590.0,220.2 C591.3,216.1 593.0,211.0 594.0,206.7 C595.0,202.4 595.1,198.4 595.8,194.6 C596.5,190.8 597.3,187.2 598.0,184.0 C598.7,180.8 599.0,177.0 600.1,175.2 C601.2,173.4 603.0,174.9 604.4,173.1 C605.8,171.3 607.3,166.9 608.7,164.4 C610.1,161.9 611.8,160.2 613.0,158.0 C614.2,155.8 615.1,151.3 616.2,151.5 C617.3,151.7 618.1,156.2 619.4,159.1 C620.7,162.0 622.3,168.3 623.8,168.8 C625.2,169.3 626.9,164.8 628.1,162.3 C629.3,159.8 630.0,157.0 631.0,153.7 C632.0,150.3 632.9,145.2 633.8,142.2 C634.7,139.2 635.6,136.3 636.4,135.5 C637.2,134.7 637.8,136.1 638.5,137.5 C639.2,138.9 640.0,143.1 640.7,143.8 C641.4,144.5 642.0,143.4 642.8,141.5 C643.5,139.6 644.4,134.6 645.2,132.1 C646.1,129.6 647.0,127.0 647.9,126.7 C648.8,126.4 649.8,129.2 650.6,130.1 C651.4,131.0 651.9,131.1 652.6,132.1 C653.3,133.1 654.0,133.9 654.6,136.2 C655.2,138.4 655.5,142.7 656.0,145.6 C656.5,148.5 656.8,150.8 657.3,153.7 C657.8,156.6 658.5,159.5 659.0,163.0 C659.5,166.5 659.6,169.8 660.6,174.5 C661.6,179.2 663.4,186.1 665.1,191.4 C666.8,196.7 668.8,201.8 670.7,206.5 C672.6,211.2 674.5,216.9 676.4,219.7 C678.3,222.5 680.1,221.8 682.0,223.4 C683.9,225.0 685.8,225.6 687.7,229.1 C689.6,232.6 691.4,240.3 693.3,244.2 C695.2,248.1 696.8,250.4 699.0,252.6 C701.2,254.8 703.7,255.6 706.5,257.3 C709.3,259.0 712.8,261.3 715.9,263.0 C719.0,264.7 722.2,266.4 725.3,267.7 C728.4,268.9 731.6,269.7 734.7,270.5 C737.9,271.3 741.1,271.8 744.2,272.4 C747.4,273.0 751.0,273.9 753.6,274.3 C756.2,274.7 757.4,274.3 760.0,274.5 C762.6,274.7 765.4,274.7 769.3,275.7 C773.2,276.7 778.4,279.4 783.3,280.3 C788.2,281.2 793.7,280.8 798.9,281.1 C804.1,281.4 809.2,281.6 814.4,281.9 C819.6,282.2 824.8,282.2 830.0,282.7 C835.2,283.2 840.3,284.5 845.5,285.0 C850.7,285.5 855.9,285.3 861.1,285.5 C866.3,285.7 869.5,285.8 876.6,286.1 C883.8,286.4 899.4,287.1 904.0,287.3" stroke="#f77f00" />
</g>
<g clip-path="url(#cc)" fill="none" stroke-width="3.6" stroke-linejoin="round" stroke-linecap="round">
<path d="M72.0,677.0 C85.2,677.0 136.0,677.2 151.4,677.0 C166.8,676.8 160.0,676.0 164.3,675.5 C168.6,675.0 173.3,675.0 177.2,674.2 C181.1,673.5 184.9,672.6 187.5,671.0 C190.1,669.4 190.7,667.8 192.6,664.6 C194.5,661.4 197.3,654.9 199.0,651.7 C200.7,648.5 201.6,646.8 202.9,645.3 C204.2,643.8 205.1,644.0 206.8,642.7 C208.5,641.4 211.3,639.4 213.2,637.6 C215.1,635.8 216.1,634.4 218.0,632.0 C219.9,629.6 222.2,626.7 224.7,623.4 C227.2,620.1 230.4,617.2 232.8,612.1 C235.2,607.0 237.5,598.9 239.2,592.7 C240.9,586.5 241.9,580.5 243.0,575.0 C244.1,569.5 245.1,564.5 246.0,560.0 C246.9,555.5 247.7,551.3 248.5,548.0 C249.3,544.7 250.1,542.2 251.0,540.0 C251.9,537.8 253.0,535.8 254.0,534.5 C255.0,533.2 256.0,532.8 257.0,532.0 C258.0,531.2 258.9,531.2 260.0,530.0 C261.1,528.8 262.2,527.3 263.5,525.0 C264.8,522.7 266.6,518.7 268.0,516.0 C269.4,513.3 270.7,510.5 272.0,509.0 C273.3,507.5 274.7,506.5 276.0,507.0 C277.3,507.5 278.7,509.3 280.0,512.0 C281.3,514.7 282.4,518.8 283.9,523.3 C285.4,527.8 287.0,534.5 288.8,539.1 C290.6,543.8 293.0,549.8 294.8,551.2 C296.6,552.6 298.3,550.6 299.7,547.6 C301.1,544.6 302.1,538.9 303.3,533.0 C304.5,527.1 305.8,519.9 307.0,512.4 C308.2,504.9 309.2,498.6 310.3,488.0 C311.4,477.4 312.4,458.1 313.3,448.5 C314.2,438.9 314.8,435.4 315.8,430.3 C316.8,425.2 318.3,419.2 319.4,417.6 C320.5,416.0 321.3,419.0 322.4,420.6 C323.5,422.2 324.7,427.0 326.1,427.3 C327.5,427.6 329.3,423.9 330.9,422.4 C332.5,420.9 334.5,417.9 335.8,418.2 C337.1,418.5 337.9,421.6 338.8,424.2 C339.7,426.8 340.4,430.7 341.2,433.9 C342.0,437.1 342.6,442.6 343.6,443.6 C344.6,444.6 345.9,442.3 347.0,440.0 C348.1,437.7 348.9,432.6 350.0,430.0 C351.1,427.4 352.3,425.6 353.3,424.6 C354.3,423.6 355.0,422.1 355.8,423.8 C356.6,425.5 357.5,431.3 358.1,435.0 C358.7,438.7 359.1,442.2 359.6,446.0 C360.1,449.8 360.5,453.8 361.0,457.5 C361.5,461.2 362.0,464.8 362.6,468.0 C363.2,471.2 363.6,473.9 364.4,477.0 C365.2,480.1 366.5,484.1 367.5,486.5 C368.5,488.9 369.6,489.9 370.5,491.5 C371.4,493.1 371.4,492.2 373.2,496.3 C375.0,500.4 379.2,511.4 381.3,516.4 C383.4,521.4 384.6,523.8 386.0,526.5 C387.4,529.2 388.5,531.0 390.0,532.5 C391.5,534.0 393.5,535.2 395.0,535.8 C396.5,536.3 397.5,536.2 399.0,535.8 C400.5,535.4 402.6,533.4 404.0,533.5 C405.4,533.6 406.2,535.2 407.5,536.5 C408.8,537.8 410.1,539.6 411.5,541.5 C412.9,543.4 414.4,545.8 416.0,548.0 C417.6,550.2 419.3,552.4 421.0,555.0 C422.7,557.6 425.1,560.8 426.3,563.5 C427.6,566.2 427.8,568.4 428.5,571.0 C429.2,573.6 429.4,576.2 430.4,579.0 C431.4,581.8 432.8,586.0 434.4,588.0 C436.0,590.0 438.0,590.5 440.0,591.0 C442.0,591.5 444.3,590.3 446.5,591.0 C448.7,591.7 451.1,593.8 453.3,595.4 C455.6,597.0 458.9,599.6 460.0,600.5" stroke="#000000" />
<path d="M72.0,677.0 C82.0,676.6 121.4,675.6 132.2,674.9 C143.0,674.2 135.5,673.9 137.0,673.0 C138.5,672.1 139.6,672.4 141.2,669.7 C142.8,667.0 144.9,660.3 146.3,656.9 C147.7,653.5 148.2,649.9 149.5,649.2 C150.8,648.6 152.4,653.5 154.0,653.0 C155.6,652.5 157.5,646.2 159.2,646.0 C160.9,645.8 162.6,649.7 164.3,651.7 C166.0,653.7 167.7,656.5 169.5,658.2 C171.3,659.9 172.7,660.9 175.0,662.0 C177.3,663.1 181.1,664.6 183.6,664.6 C186.1,664.6 187.8,663.7 190.0,662.0 C192.2,660.3 194.3,658.0 196.5,654.3 C198.7,650.6 201.1,644.4 203.0,640.0 C204.9,635.6 206.3,631.2 208.0,628.0 C209.7,624.8 211.3,622.9 213.2,620.9 C215.1,618.9 217.6,617.9 219.6,615.7 C221.6,613.6 223.3,611.5 225.0,608.0 C226.7,604.5 228.3,600.0 230.0,595.0 C231.7,590.0 233.3,583.5 235.0,578.0 C236.7,572.5 238.5,565.7 240.0,562.0 C241.5,558.3 242.3,558.3 244.0,556.0 C245.7,553.7 248.0,551.0 250.0,548.0 C252.0,545.0 254.0,541.9 256.0,538.0 C258.0,534.1 260.1,526.5 262.1,524.5 C264.1,522.5 266.2,524.6 268.2,525.8 C270.2,527.0 272.2,531.4 274.2,531.8 C276.2,532.2 278.7,529.4 280.3,528.2 C281.9,527.0 282.3,523.9 283.9,524.5 C285.5,525.1 288.0,529.7 290.0,531.8 C292.0,533.9 294.1,537.3 296.1,537.3 C298.1,537.3 300.5,534.9 302.1,531.8 C303.7,528.7 304.7,524.6 305.8,518.5 C306.9,512.4 308.0,502.2 309.0,495.0 C310.0,487.8 310.8,480.0 312.0,475.0 C313.2,470.0 314.3,467.2 316.0,465.0 C317.7,462.8 319.8,462.7 322.0,462.0 C324.2,461.3 326.7,461.4 329.1,460.6 C331.5,459.8 334.2,457.3 336.4,457.0 C338.5,456.7 340.0,459.0 342.0,459.0 C344.0,459.0 347.0,460.2 348.5,457.0 C350.0,453.8 350.2,444.2 351.0,440.0 C351.8,435.8 352.2,429.5 353.0,432.0 C353.8,434.5 355.0,447.8 356.0,455.0 C357.0,462.2 358.0,470.2 359.0,475.0 C360.0,479.8 361.0,481.0 362.0,484.0 C363.0,487.0 364.1,490.3 365.0,493.0 C365.9,495.7 366.7,497.7 367.5,500.0 C368.3,502.3 369.0,505.1 370.0,507.0 C371.0,508.9 372.3,510.1 373.5,511.7 C374.7,513.3 375.8,514.6 377.0,516.5 C378.2,518.4 378.9,519.4 381.0,523.0 C383.1,526.6 386.9,534.2 389.3,538.0 C391.7,541.8 393.4,544.7 395.4,546.0 C397.4,547.3 399.4,546.2 401.4,545.8 C403.4,545.4 405.6,543.0 407.5,543.7 C409.4,544.4 410.6,546.1 413.0,550.0 C415.4,553.9 419.2,562.1 421.6,566.9 C424.1,571.7 425.7,575.3 427.7,579.0 C429.7,582.7 431.4,586.7 433.8,589.1 C436.2,591.5 439.1,591.7 441.8,593.2 C444.5,594.7 446.9,596.2 449.9,598.2 C452.9,600.2 458.3,603.9 460.0,605.0" stroke="#e80000" />
<path d="M72.0,677.0 C80.0,676.8 111.0,676.4 120.0,676.0 C128.9,675.6 123.7,675.9 125.7,674.9 C127.7,673.9 130.3,672.1 132.2,669.7 C134.1,667.3 135.8,661.3 137.3,660.7 C138.8,660.1 139.7,664.2 141.2,665.9 C142.7,667.6 144.6,670.4 146.3,671.0 C148.0,671.6 149.5,670.8 151.4,669.7 C153.3,668.6 155.8,666.0 157.9,664.6 C160.1,663.2 162.4,662.1 164.3,661.4 C166.2,660.6 167.8,660.0 169.5,660.1 C171.2,660.2 172.5,661.9 174.6,662.0 C176.7,662.1 179.4,662.9 182.0,661.0 C184.6,659.1 187.4,654.2 190.0,650.5 C192.6,646.8 195.3,642.1 197.7,638.9 C200.1,635.7 202.0,633.1 204.2,631.2 C206.3,629.3 208.0,628.8 210.6,627.3 C213.2,625.8 217.2,624.5 219.6,622.0 C222.0,619.5 222.9,616.3 225.0,612.0 C227.1,607.7 229.8,602.7 232.0,596.0 C234.2,589.3 236.5,578.3 238.0,572.0 C239.5,565.7 240.0,562.5 241.0,558.0 C242.0,553.5 243.1,548.7 244.0,545.0 C244.9,541.3 245.8,538.0 246.5,536.0 C247.2,534.0 247.8,533.1 248.5,533.0 C249.2,532.9 249.8,534.4 250.5,535.5 C251.2,536.6 251.7,538.2 252.5,539.5 C253.3,540.8 254.4,542.3 255.5,543.0 C256.6,543.7 257.7,544.8 258.8,543.8 C259.9,542.8 261.0,539.3 262.0,537.0 C263.0,534.7 264.0,532.5 265.0,530.0 C266.0,527.5 266.9,524.7 268.0,522.0 C269.1,519.3 270.2,516.2 271.5,514.0 C272.8,511.8 274.4,508.8 275.8,508.5 C277.2,508.2 278.5,510.2 280.0,512.0 C281.5,513.8 283.3,517.3 285.0,519.0 C286.7,520.7 288.5,521.8 290.0,522.0 C291.5,522.2 292.3,522.3 294.0,520.0 C295.7,517.7 298.2,512.5 300.0,508.0 C301.8,503.5 303.3,498.3 305.0,493.0 C306.7,487.7 308.4,481.4 310.0,476.0 C311.6,470.6 312.9,463.6 314.5,460.6 C316.1,457.6 317.8,458.8 319.4,458.2 C321.0,457.6 322.6,457.6 324.2,457.0 C325.8,456.4 327.3,455.9 329.1,454.5 C330.9,453.1 333.0,447.9 335.2,448.5 C337.4,449.1 340.4,457.8 342.4,458.2 C344.4,458.6 345.9,455.3 347.3,450.9 C348.7,446.5 349.7,435.6 350.5,432.0 C351.3,428.4 351.4,429.3 352.0,429.0 C352.6,428.7 353.3,428.7 354.0,430.0 C354.7,431.3 355.3,433.5 356.0,437.0 C356.7,440.5 357.3,446.0 358.0,451.0 C358.7,456.0 359.3,462.2 360.0,467.0 C360.7,471.8 361.0,476.0 362.0,480.0 C363.0,484.0 364.7,488.0 366.0,491.0 C367.3,494.0 368.8,496.0 370.0,498.0 C371.2,500.0 372.3,501.0 373.5,503.0 C374.7,505.0 375.8,507.5 377.0,510.0 C378.2,512.5 379.7,515.3 381.0,518.0 C382.3,520.7 383.7,523.5 385.0,526.0 C386.3,528.5 386.9,530.0 388.6,533.2 C390.3,536.4 392.9,542.2 395.0,545.0 C397.1,547.8 400.3,549.0 401.4,549.8 C402.5,550.6 400.0,550.0 401.4,549.8 C402.8,549.6 407.1,548.0 409.5,548.8 C411.9,549.6 413.6,551.8 415.6,554.8 C417.6,557.8 419.6,562.9 421.6,566.9 C423.6,570.9 425.7,575.3 427.7,579.0 C429.7,582.7 431.4,586.7 433.8,589.1 C436.2,591.5 439.1,591.7 441.8,593.2 C444.5,594.7 446.9,596.2 449.9,598.2 C452.9,600.2 458.3,603.9 460.0,605.0" stroke="#00e000" />
<path d="M72.0,677.0 C83.8,676.8 130.2,676.6 143.0,676.0 C155.8,675.4 146.6,675.7 148.9,673.6 C151.2,671.5 154.7,665.8 156.6,663.3 C158.5,660.8 159.2,658.6 160.5,658.8 C161.8,659.0 162.8,662.8 164.3,664.6 C165.8,666.4 167.6,669.3 169.5,669.7 C171.4,670.1 173.8,668.0 176.0,667.0 C178.2,666.0 180.7,665.8 183.0,664.0 C185.3,662.2 187.7,659.3 190.0,656.0 C192.3,652.7 194.7,647.8 197.0,644.0 C199.3,640.2 201.7,636.0 204.0,633.0 C206.3,630.0 208.5,628.2 211.0,626.0 C213.5,623.8 216.7,622.7 219.0,620.0 C221.3,617.3 223.0,614.3 225.0,610.0 C227.0,605.7 229.0,600.0 231.0,594.0 C233.0,588.0 235.5,579.3 237.0,574.0 C238.5,568.7 239.0,565.5 240.0,562.0 C241.0,558.5 241.9,555.9 242.8,553.2 C243.7,550.5 244.7,547.9 245.5,546.0 C246.3,544.1 247.1,542.6 247.8,542.0 C248.5,541.4 248.9,542.0 249.5,542.5 C250.1,543.0 250.9,544.9 251.5,545.0 C252.1,545.1 252.2,544.3 253.0,543.0 C253.8,541.7 254.8,538.8 256.0,537.0 C257.2,535.2 258.7,533.8 260.0,532.0 C261.3,530.2 262.7,528.5 264.0,526.0 C265.3,523.5 266.7,520.5 268.0,517.0 C269.3,513.5 270.4,508.1 272.0,505.0 C273.6,501.9 275.9,498.8 277.3,498.5 C278.7,498.2 279.4,501.1 280.5,503.0 C281.6,504.9 282.3,507.2 283.9,510.0 C285.5,512.8 288.4,517.5 290.0,519.7 C291.6,521.9 292.4,523.1 293.6,523.3 C294.8,523.5 295.8,522.2 297.0,521.0 C298.2,519.8 299.7,518.8 300.9,516.1 C302.1,513.4 303.0,508.6 304.0,505.0 C305.0,501.4 305.7,499.4 307.0,494.2 C308.3,489.0 310.6,479.2 311.8,473.6 C313.1,468.0 313.2,463.2 314.5,460.6 C315.8,458.0 317.8,458.8 319.4,458.2 C321.0,457.6 322.6,457.6 324.2,457.0 C325.8,456.4 327.3,455.9 329.1,454.5 C330.9,453.1 333.4,448.4 335.2,448.5 C337.0,448.6 338.8,453.4 340.0,455.0 C341.2,456.6 341.2,458.9 342.4,458.2 C343.6,457.5 346.1,454.3 347.3,450.9 C348.5,447.5 348.9,440.9 349.5,438.0 C350.1,435.1 350.3,434.2 351.0,433.5 C351.7,432.8 352.8,432.9 353.5,434.0 C354.2,435.1 354.5,437.5 355.0,440.0 C355.5,442.5 355.9,445.0 356.5,449.0 C357.1,453.0 357.7,458.9 358.5,464.0 C359.3,469.1 360.2,475.3 361.5,479.5 C362.8,483.7 364.4,486.1 366.0,489.0 C367.6,491.9 369.4,493.7 371.0,497.0 C372.6,500.3 374.2,505.7 375.7,509.0 C377.2,512.3 378.6,514.4 380.0,517.0 C381.4,519.6 382.8,521.4 384.3,524.6 C385.9,527.8 387.5,531.6 389.3,536.0 C391.1,540.4 393.7,547.7 395.4,550.8 C397.1,553.9 397.4,554.1 399.4,554.8 C401.4,555.5 404.8,553.8 407.5,554.8 C410.2,555.8 413.2,558.7 415.6,560.9 C418.0,563.1 418.6,563.3 421.6,568.0 C424.6,572.7 430.4,584.9 433.8,589.1 C437.2,593.3 439.1,591.7 441.8,593.2 C444.5,594.7 446.9,596.2 449.9,598.2 C452.9,600.2 458.3,603.9 460.0,605.0" stroke="#0000b8" />
<path d="M72.0,677.0 C82.2,676.8 121.9,676.6 133.0,676.0 C144.1,675.4 136.8,675.4 138.6,673.6 C140.4,671.8 142.2,667.7 144.0,665.0 C145.8,662.3 147.8,658.2 149.5,657.5 C151.2,656.8 152.4,659.5 154.0,660.7 C155.6,661.9 157.5,663.3 159.2,664.6 C160.9,665.9 162.2,668.1 164.3,668.5 C166.4,668.9 169.8,667.9 172.0,667.2 C174.2,666.6 175.4,665.5 177.2,664.6 C179.0,663.7 180.9,663.8 183.0,662.0 C185.1,660.2 187.7,657.3 190.0,654.0 C192.3,650.7 194.7,645.7 197.0,642.0 C199.3,638.3 201.7,634.8 204.0,632.0 C206.3,629.2 208.5,627.2 211.0,625.0 C213.5,622.8 216.7,621.7 219.0,619.0 C221.3,616.3 223.0,613.3 225.0,609.0 C227.0,604.7 229.2,598.5 231.0,593.0 C232.8,587.5 234.3,581.5 236.0,576.0 C237.7,570.5 239.2,564.3 241.0,560.0 C242.8,555.7 245.0,553.0 247.0,550.0 C249.0,547.0 251.4,544.8 253.0,542.0 C254.6,539.2 255.3,535.5 256.5,533.5 C257.7,531.5 258.6,531.4 260.0,530.0 C261.4,528.6 263.3,528.1 265.0,525.0 C266.7,521.9 268.4,515.0 270.2,511.3 C272.0,507.6 273.9,503.4 275.8,502.8 C277.7,502.2 280.0,505.6 281.5,507.5 C283.0,509.4 283.9,512.1 285.0,514.0 C286.1,515.9 286.8,516.9 288.0,519.0 C289.2,521.1 290.9,525.9 292.4,526.4 C293.9,526.9 295.6,524.1 297.0,522.0 C298.4,519.9 299.7,517.7 301.0,514.0 C302.3,510.3 303.7,505.2 305.0,500.0 C306.3,494.8 307.7,488.0 309.0,483.0 C310.3,478.0 311.5,472.0 313.0,470.0 C314.5,468.0 316.5,470.4 318.0,471.0 C319.5,471.6 320.5,474.3 321.8,473.5 C323.1,472.7 324.6,468.9 326.0,466.0 C327.4,463.1 328.5,459.1 330.0,456.0 C331.5,452.9 333.9,448.5 335.2,447.3 C336.5,446.1 337.0,448.2 338.0,449.0 C339.0,449.8 340.0,452.1 341.2,452.1 C342.4,452.1 343.9,450.5 345.0,449.0 C346.1,447.5 347.2,445.0 348.0,443.0 C348.8,441.0 349.2,437.5 350.0,437.0 C350.8,436.5 352.0,436.5 353.0,440.0 C354.0,443.5 355.2,453.0 356.0,458.0 C356.8,463.0 357.3,466.7 358.0,470.0 C358.7,473.3 359.3,475.5 360.0,478.0 C360.7,480.5 361.3,482.8 362.0,485.0 C362.7,487.2 363.2,489.1 364.0,491.0 C364.8,492.9 365.6,494.8 366.5,496.5 C367.4,498.2 368.3,499.4 369.2,501.0 C370.1,502.6 370.9,504.1 372.0,506.0 C373.1,507.9 374.6,510.2 376.0,512.5 C377.4,514.8 379.0,517.4 380.5,520.0 C382.0,522.6 383.5,525.2 385.0,528.0 C386.5,530.8 387.6,534.2 389.3,537.0 C391.0,539.8 393.2,542.9 395.0,544.5 C396.8,546.1 398.3,546.2 400.0,546.5 C401.7,546.8 403.3,546.0 405.0,546.0 C406.7,546.0 408.5,545.7 410.0,546.5 C411.5,547.3 412.8,548.9 414.0,551.0 C415.2,553.1 415.8,556.3 417.0,559.0 C418.2,561.7 419.7,564.2 421.0,567.0 C422.3,569.8 423.4,572.8 425.0,576.0 C426.6,579.2 428.8,584.0 430.4,586.5 C432.0,589.0 432.8,589.7 434.4,591.0 C436.0,592.3 438.1,593.3 440.0,594.5 C441.9,595.7 443.8,596.7 446.0,598.0 C448.2,599.3 450.7,601.0 453.0,602.5 C455.3,604.0 458.8,606.2 460.0,607.0" stroke="#f800e0" />
<path d="M72.0,677.0 C76.7,677.0 88.7,677.0 100.0,677.0 C111.3,677.0 131.4,676.9 140.0,676.8 C148.6,676.7 147.8,677.0 151.4,676.3 C155.0,675.5 158.9,673.8 161.7,672.3 C164.5,670.8 165.8,669.2 168.2,667.2 C170.6,665.2 174.0,661.0 175.9,660.1 C177.8,659.2 178.4,661.4 179.7,662.0 C181.0,662.6 181.9,665.1 183.6,664.0 C185.3,662.9 187.8,658.9 190.0,655.6 C192.2,652.3 194.3,647.6 196.5,644.0 C198.7,640.4 200.8,636.5 202.9,633.7 C205.0,630.9 207.3,629.1 209.3,627.3 C211.3,625.5 212.7,625.8 215.0,623.0 C217.3,620.2 220.7,615.3 223.1,610.5 C225.5,605.7 227.6,599.7 229.5,594.3 C231.4,588.9 232.8,583.6 234.4,578.2 C236.0,572.8 237.8,565.6 239.2,562.0 C240.5,558.4 241.2,557.5 242.5,556.3 C243.8,555.1 245.7,556.2 247.3,554.7 C248.9,553.2 250.3,550.0 252.2,547.5 C254.1,545.0 256.5,542.4 258.6,539.4 C260.8,536.4 263.2,532.9 265.1,529.7 C267.0,526.5 268.5,522.8 270.0,520.0 C271.5,517.2 272.7,513.9 274.2,513.0 C275.7,512.1 277.3,513.5 279.1,514.8 C280.9,516.1 283.4,519.3 285.2,520.9 C287.0,522.5 288.4,525.1 290.0,524.5 C291.6,523.9 293.2,520.5 294.8,517.3 C296.4,514.1 298.1,509.4 299.7,505.2 C301.3,500.9 303.0,496.6 304.5,491.8 C306.0,487.0 307.2,480.4 308.5,476.4 C309.8,472.4 311.0,469.7 312.1,467.9 C313.2,466.1 314.2,465.3 315.2,465.5 C316.2,465.7 317.1,467.7 318.2,469.1 C319.3,470.5 320.6,473.7 321.8,473.9 C323.0,474.1 324.3,472.9 325.5,470.3 C326.7,467.7 327.9,462.2 329.1,458.2 C330.3,454.2 331.5,449.1 332.7,446.1 C333.9,443.1 335.2,440.8 336.4,440.0 C337.6,439.2 338.8,440.2 340.0,441.2 C341.2,442.2 342.4,446.3 343.6,446.1 C344.8,445.9 346.3,441.6 347.3,440.0 C348.3,438.4 348.7,435.4 349.7,436.4 C350.7,437.4 352.3,442.1 353.3,446.1 C354.3,450.1 355.0,456.2 355.8,460.6 C356.6,465.0 357.2,468.9 358.2,472.7 C359.2,476.5 360.7,481.4 361.7,483.7 C362.7,485.9 363.2,485.4 364.0,486.2 C364.8,487.0 365.4,486.8 366.5,488.5 C367.6,490.2 369.1,493.7 370.3,496.6 C371.5,499.5 372.4,503.2 373.5,506.0 C374.6,508.8 375.7,511.0 376.8,513.5 C377.9,516.0 378.8,518.4 380.0,521.0 C381.2,523.6 382.9,526.4 384.3,529.0 C385.7,531.6 386.8,533.4 388.6,536.5 C390.5,539.6 393.3,545.5 395.4,547.7 C397.5,549.9 399.0,549.6 401.4,549.8 C403.8,550.0 407.1,548.0 409.5,548.8 C411.9,549.6 413.6,551.8 415.6,554.8 C417.6,557.8 419.6,562.9 421.6,566.9 C423.6,570.9 425.7,575.3 427.7,579.0 C429.7,582.7 431.4,586.7 433.8,589.1 C436.2,591.5 439.1,591.7 441.8,593.2 C444.5,594.7 446.9,596.2 449.9,598.2 C452.9,600.2 458.3,603.9 460.0,605.0" stroke="#f77f00" />
</g>
<g font-family='"Liberation Serif", serif' font-size="19.5" fill="#111">
<text x="72.0" y="343.5" text-anchor="middle">0</text>
<text x="169.0" y="343.5" text-anchor="middle">5</text>
<text x="266.0" y="343.5" text-anchor="middle">10</text>
<text x="363.0" y="343.5" text-anchor="middle">15</text>
<text x="460.0" y="343.5" text-anchor="middle">20</text>
<text x="66" y="295.9" text-anchor="end">0</text>
<text x="66" y="231.7" text-anchor="end">1</text>
<text x="66" y="167.4" text-anchor="end">2</text>
<text x="66" y="103.2" text-anchor="end">3</text>
<text x="66" y="39.0" text-anchor="end">4</text>
<text x="516.0" y="343.5" text-anchor="middle">0</text>
<text x="613.0" y="343.5" text-anchor="middle">5</text>
<text x="710.0" y="343.5" text-anchor="middle">10</text>
<text x="807.0" y="343.5" text-anchor="middle">15</text>
<text x="904.0" y="343.5" text-anchor="middle">20</text>
<text x="510" y="295.9" text-anchor="end">0</text>
<text x="510" y="231.7" text-anchor="end">1</text>
<text x="510" y="167.4" text-anchor="end">2</text>
<text x="510" y="103.2" text-anchor="end">3</text>
<text x="510" y="39.0" text-anchor="end">4</text>
<text x="72.0" y="698.5" text-anchor="middle">0</text>
<text x="149.6" y="698.5" text-anchor="middle">2</text>
<text x="227.2" y="698.5" text-anchor="middle">4</text>
<text x="304.8" y="698.5" text-anchor="middle">6</text>
<text x="382.4" y="698.5" text-anchor="middle">8</text>
<text x="460.0" y="698.5" text-anchor="middle">10</text>
<text x="66" y="683.0" text-anchor="end">0</text>
<text x="66" y="610.8" text-anchor="end">5</text>
<text x="66" y="538.5" text-anchor="end">10</text>
<text x="66" y="466.2" text-anchor="end">15</text>
<text x="66" y="394.0" text-anchor="end">20</text>
</g>
<g font-family='"Liberation Serif", serif' font-size="33" fill="#111">
<text x="82" y="68.3">(a)</text>
<text x="525.6" y="67.6">(b)</text>
<text x="82" y="423.4">(c)</text>
</g>
<g font-family='"Liberation Serif", serif' font-size="25" font-weight="bold" fill="#111">
<text x="266.8" y="370.5" text-anchor="middle">Energy (eV)</text>
<text x="710.6" y="370.5" text-anchor="middle">Energy (eV)</text>
<text x="266.8" y="725.5" text-anchor="middle">Energy (eV)</text>
<text transform="translate(39,176.5) rotate(-90)" font-size="27" font-weight="bold">ε</text>
<text transform="translate(43,165.3) rotate(-90)" font-size="16" font-weight="bold">1</text>
<text transform="translate(486,176) rotate(-90)" font-size="27" font-weight="bold">ε</text>
<text transform="translate(490,165.8) rotate(-90)" font-size="16" font-weight="bold">2</text>
<text transform="translate(30,632) rotate(-90)" font-size="25" font-weight="bold">Absorption</text>
<text transform="translate(30.5,506.2) rotate(-90)" font-size="18" font-weight="normal">(</text>
<text transform="translate(30,498.6) rotate(-90)" font-size="25" font-weight="bold">10</text>
<text transform="translate(24,474.8) rotate(-90)" font-size="16" font-weight="bold">4</text>
<text transform="translate(30,459.8) rotate(-90)" font-size="25" font-weight="bold">cm</text>
<text transform="translate(24,428.6) rotate(-90)" font-size="16" font-weight="bold">-</text>
<text transform="translate(24,423) rotate(-90)" font-size="16" font-weight="bold">1</text>
<text transform="translate(30.5,415) rotate(-90)" font-size="18" font-weight="normal">)</text>
</g>
<g stroke-width="3.6" stroke-linecap="round">
<line x1="324" y1="64.5" x2="367" y2="64.5" stroke="#000000"/>
<line x1="324" y1="89.0" x2="367" y2="89.0" stroke="#e80000"/>
<line x1="324" y1="113.5" x2="367" y2="113.5" stroke="#00e000"/>
<line x1="324" y1="138.0" x2="367" y2="138.0" stroke="#0000b8"/>
<line x1="324" y1="162.5" x2="367" y2="162.5" stroke="#f800e0"/>
<line x1="324" y1="187.0" x2="367" y2="187.0" stroke="#f77f00"/>
</g>
<g font-family='"Liberation Serif", serif' font-size="19.4" fill="#111">
<text x="372.5" y="70.8">ZnS</text>
<text x="372.5" y="95.3">C-ZnS</text>
<text x="372.5" y="119.8">Si-ZnS</text>
<text x="372.5" y="144.3">Ge-ZnS</text>
<text x="372.5" y="168.8">Sn-ZnS</text>
<text x="372.5" y="193.3">Pb-ZnS</text>
</g>
<g stroke-width="3.6" stroke-linecap="round">
<line x1="768" y1="64.5" x2="811" y2="64.5" stroke="#000000"/>
<line x1="768" y1="89.0" x2="811" y2="89.0" stroke="#e80000"/>
<line x1="768" y1="113.5" x2="811" y2="113.5" stroke="#00e000"/>
<line x1="768" y1="138.0" x2="811" y2="138.0" stroke="#0000b8"/>
<line x1="768" y1="162.5" x2="811" y2="162.5" stroke="#f800e0"/>
<line x1="768" y1="187.0" x2="811" y2="187.0" stroke="#f77f00"/>
</g>
<g font-family='"Liberation Serif", serif' font-size="19.4" fill="#111">
<text x="816.5" y="70.8">ZnS</text>
<text x="816.5" y="95.3">C-ZnS</text>
<text x="816.5" y="119.8">Si-ZnS</text>
<text x="816.5" y="144.3">Ge-ZnS</text>
<text x="816.5" y="168.8">Sn-ZnS</text>
<text x="816.5" y="193.3">Pb-ZnS</text>
</g>
<g stroke-width="3.6" stroke-linecap="round">
<line x1="83" y1="458.6" x2="125.5" y2="458.6" stroke="#000000"/>
<line x1="83" y1="483.1" x2="125.5" y2="483.1" stroke="#e80000"/>
<line x1="83" y1="507.6" x2="125.5" y2="507.6" stroke="#00e000"/>
<line x1="83" y1="532.1" x2="125.5" y2="532.1" stroke="#0000b8"/>
<line x1="83" y1="556.6" x2="125.5" y2="556.6" stroke="#f800e0"/>
<line x1="83" y1="581.1" x2="125.5" y2="581.1" stroke="#f77f00"/>
</g>
<g font-family='"Liberation Serif", serif' font-size="19.4" fill="#111">
<text x="131" y="464.9">ZnS</text>
<text x="131" y="489.4">C-ZnS</text>
<text x="131" y="513.9">Si-ZnS</text>
<text x="131" y="538.4">Ge-ZnS</text>
<text x="131" y="562.9">Sn-ZnS</text>
<text x="131" y="587.4">Pb-ZnS</text>
</g>
</svg>
</body></html>
